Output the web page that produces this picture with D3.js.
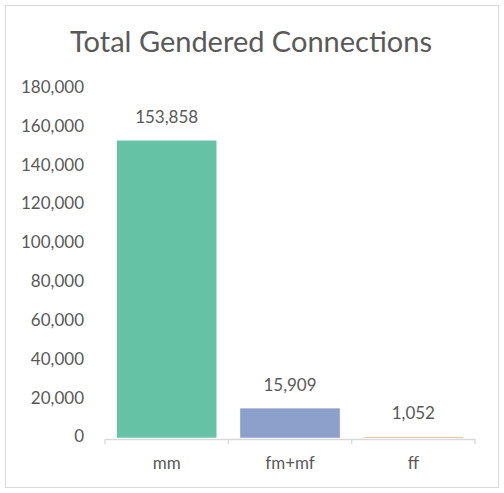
<!DOCTYPE html>
<html>
<head>
<meta charset="utf-8">
<script src="https://cdn.jsdelivr.net/npm/d3@7"></script>
<style>
  body { margin: 0; background: #fff; }
  svg text { font-family: Lato, "Open Sans", sans-serif; fill: #595959; }
</style>
</head>
<body>
<div class="chart"></div>
<script>
// values
const categories = ['mm', 'fm+mf', 'ff'];
const connections = [153858, 15909, 1052];
const barColors = ['#66c2a5', '#8da0cb', '#fc8d62'];
const yTicks = [0, 20000, 40000, 60000, 80000, 100000, 120000, 140000, 160000, 180000];

const width = 504;
const height = 493;

const svg = d3.select('.chart')
    .append('svg')
    .attr('width', width)
    .attr('height', height);

// outer frame
svg.append('rect')
    .attr('x', 5.5).attr('y', 5.5)
    .attr('width', 493).attr('height', 482)
    .attr('fill', '#fff')
    .attr('stroke', '#d9d9d9');

svg.append('text')
    .attr('x', 251)
    .attr('y', 52)
    .attr('text-anchor', 'middle')
    .attr('font-size', 29)
    .text('Total Gendered Connections');

const x = d3.scaleBand()
    .domain(categories)
    .range([105, 475])
    .paddingInner(0.18)
    .paddingOuter(0.09);

const y = d3.scaleLinear()
    .domain([0, 180000])
    .range([438.5, 89]);

const fmt = d3.format(',');

// y tick labels, no axis line
svg.append('g')
    .selectAll('text')
    .data(yTicks)
    .enter()
    .append('text')
    .attr('x', 84)
    .attr('y', d => y(d) - 2)
    .attr('dy', '0.35em')
    .attr('text-anchor', 'end')
    .attr('font-size', 17)
    .text(d => fmt(d));

const data = categories.map((c, i) => ({cat: c, value: connections[i], color: barColors[i]}));

svg.selectAll('rect.bar')
    .data(data)
    .enter()
    .append('rect')
    .attr('class', 'bar')
    .attr('x', d => x(d.cat))
    .attr('y', d => y(d.value))
    .attr('width', x.bandwidth())
    .attr('height', d => y(0) - y(d.value))
    .attr('fill', d => d.color)
    .attr('stroke', '#fff')
    .attr('stroke-width', 1.5);

svg.selectAll('text.val')
    .data(data)
    .enter()
    .append('text')
    .attr('class', 'val')
    .attr('x', d => x(d.cat) + x.bandwidth() / 2)
    .attr('y', d => y(d.value) - 23)
    .attr('dy', '0.35em')
    .attr('text-anchor', 'middle')
    .attr('font-size', 17)
    .text(d => fmt(d.value));

// x axis
const xAxis = d3.axisBottom(x).tickSize(0).tickPadding(18);
const gx = svg.append('g')
    .attr('transform', 'translate(0,439)')
    .call(xAxis);
gx.select('.domain').attr('stroke', '#d9d9d9').attr('stroke-width', 1.3);
gx.selectAll('text')
    .attr('font-size', 17)
    .attr('font-family', 'Lato, sans-serif')
    .attr('fill', '#595959');

// tick marks at the category boundaries
const bounds = categories.map(c => x(c) - x.step() * 0.09);
bounds.push(x.range()[1]);
svg.append('g')
    .selectAll('line')
    .data(bounds)
    .enter()
    .append('line')
    .attr('x1', d => d).attr('x2', d => d)
    .attr('y1', 439).attr('y2', 444)
    .attr('stroke', '#d9d9d9').attr('stroke-width', 1.3);
</script>
</body>
</html>
